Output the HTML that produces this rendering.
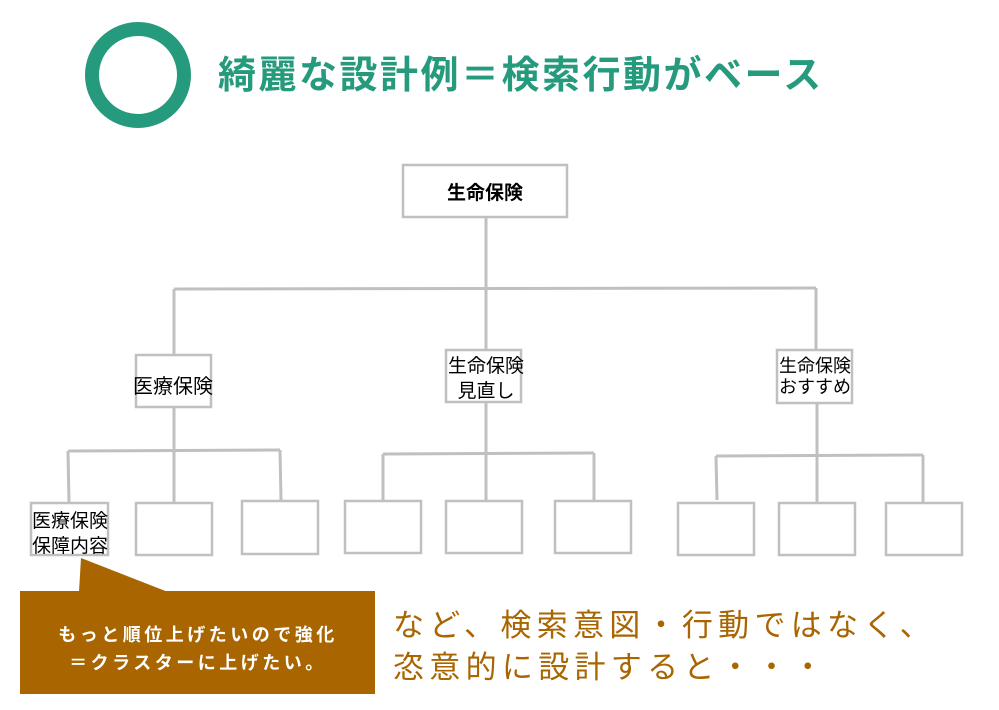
<!DOCTYPE html>
<html><head><meta charset="utf-8"><style>
html,body{margin:0;padding:0;background:#fff;width:999px;height:710px;overflow:hidden}
svg text{font-family:"Liberation Sans","Noto Sans CJK JP",sans-serif}
</style></head><body>
<svg width="999" height="710" viewBox="0 0 999 710" xmlns="http://www.w3.org/2000/svg">
<circle cx="138" cy="75" r="46" fill="none" stroke="#259a7c" stroke-width="14"/>
<text x="218" y="88" font-size="38" font-weight="bold" fill="#259a7c" letter-spacing="2.5">綺麗な設計例＝検索行動がベース</text>
<g stroke="#c0c0c0" stroke-width="3" fill="none">
<line x1="486" y1="217" x2="486" y2="350"/>
<line x1="174" y1="289" x2="816" y2="288"/>
<line x1="174" y1="289" x2="174" y2="355"/>
<line x1="816" y1="288" x2="816" y2="350"/>
<line x1="174" y1="407" x2="174" y2="503"/>
<line x1="68" y1="451" x2="280" y2="450"/>
<line x1="68" y1="451" x2="69" y2="503"/>
<line x1="280" y1="450" x2="281" y2="500"/>
<line x1="486" y1="402" x2="486" y2="500"/>
<line x1="383" y1="454" x2="594" y2="453"/>
<line x1="383" y1="454" x2="383" y2="500"/>
<line x1="594" y1="453" x2="594" y2="500"/>
<line x1="817" y1="403" x2="817" y2="503"/>
<line x1="716" y1="456" x2="923" y2="455"/>
<line x1="716" y1="456" x2="717" y2="500"/>
<line x1="923" y1="455" x2="923" y2="503"/>
</g>
<g stroke="#c0c0c0" stroke-width="2.5" fill="#fff">
<rect x="403" y="165" width="164" height="52"/>
<rect x="136" y="355" width="75" height="52"/>
<rect x="446" y="350" width="75" height="52"/>
<rect x="777" y="350" width="75" height="53"/>
<rect x="31" y="503" width="77" height="52"/>
<rect x="136" y="503" width="76" height="52"/>
<rect x="242" y="501" width="76" height="53"/>
<rect x="345" y="501" width="76" height="52"/>
<rect x="446" y="501" width="76" height="52"/>
<rect x="555" y="501" width="76" height="52"/>
<rect x="678" y="503" width="76" height="52"/>
<rect x="779" y="503" width="76" height="52"/>
<rect x="886" y="503" width="76" height="52"/>
</g>
<g fill="#000" text-anchor="middle">
<text x="485" y="199" font-size="19" font-weight="bold">生命保険</text>
<text x="173" y="393" font-size="20">医療保険</text>
<text x="486" y="372" font-size="19">生命保険</text>
<text x="486" y="397" font-size="19">見直し</text>
<text x="815" y="372" font-size="18">生命保険</text>
<text x="815" y="393" font-size="18">おすすめ</text>
<text x="70" y="527" font-size="19">医療保険</text>
<text x="70" y="552" font-size="19">保障内容</text>
</g>
<polygon points="81,558 168,592 79,592" fill="#a86500"/>
<rect x="20" y="591" width="355" height="103" fill="#a86500"/>
<g fill="#fff" font-size="18" font-weight="bold" text-anchor="middle">
<text x="198" y="641" letter-spacing="3.5">もっと順位上げたいので強化</text>
<text x="198" y="669" letter-spacing="3.5">＝クラスターに上げたい。</text>
</g>
<g fill="#a86500" font-size="31" letter-spacing="5.3">
<text x="393" y="636">など、検索意図・行動ではなく、</text>
<text x="393" y="678">恣意的に設計すると・・・</text>
</g>
</svg>
</body></html>
